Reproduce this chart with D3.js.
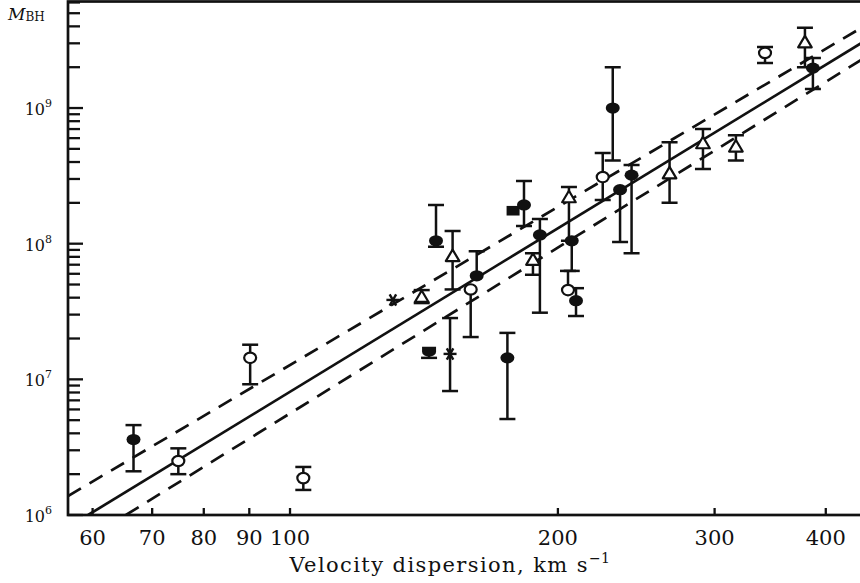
<!DOCTYPE html>
<html>
<head>
<meta charset="utf-8">
<script src="https://cdn.jsdelivr.net/npm/d3@7"></script>
<style>
  body { margin: 0; background: #fff; }
  svg { display: block; }
  text { font-family: "DejaVu Serif", "Liberation Serif", serif; fill: #111; }
</style>
</head>
<body>
<div class="chart-wrap"></div>
<script>
// velocity dispersion (km/s) and black hole mass
const sigma   = [66.7, 74.9, 90.2, 103.5, 130.5, 140.6, 143.3, 145.9, 151.3, 152.3, 159.6, 162.1, 175.5, 178.1, 183.2, 187.5, 190.9, 205.8, 207.3, 205.3, 209.6, 230.5, 224.6, 234.9, 242.0, 267.0, 291.1, 317.0, 341.8, 379.0, 386.9];
const mass    = [3.6e6, 2.5e6, 1.44e7, 1.87e6, 3.85e7, 4.05e7, 1.6e7, 1.05e8, 1.54e7, 8.1e7, 4.6e7, 5.8e7, 1.44e7, 1.75e8, 1.93e8, 7.6e7, 1.16e8, 2.2e8, 1.05e8, 4.55e7, 3.8e7, 1.0e9, 3.1e8, 2.5e8, 3.2e8, 3.3e8, 5.5e8, 5.2e8, 2.55e9, 3.05e9, 1.97e9];
const massLow = [2.1e6, 2.0e6, 9.2e6, 1.53e6, null, 3.65e7, 1.44e7, 9.5e7, 8.2e6, 4.6e7, 2.05e7, null, 5.1e6, null, 1.35e8, 5.9e7, 3.1e7, 1.05e8, 6.3e7, null, 2.93e7, 4.1e8, 2.1e8, 1.03e8, 8.5e7, 2.0e8, 3.55e8, 4.1e8, 2.15e9, 2.0e9, 1.38e9];
const massHigh= [4.6e6, 3.1e6, 1.8e7, 2.26e6, null, 4.55e7, null, 1.93e8, 2.83e7, 1.24e8, null, 8.8e7, 2.2e7, null, 2.9e8, 8.5e7, 1.52e8, 2.62e8, null, 6.3e7, 4.7e7, 2.0e9, 4.66e8, null, 3.8e8, 5.6e8, 7.0e8, 6.3e8, 2.82e9, 3.9e9, 2.34e9];
const symbol  = ["filled", "open", "open", "open", "star", "tri", "cup", "filled", "star", "tri", "open", "filled", "filled", "square", "filled", "tri", "filled", "tri", "filled", "open", "filled", "filled", "open", "filled", "filled", "tri", "tri", "tri", "open", "tri", "filled"];

// fit line and the two dashed bounds (end points)
const fitLine   = [[59.3, 1.0e6], [440, 3.05e9]];
const upperLine = [[56.3, 1.38e6], [440, 3.95e9]];
const lowerLine = [[65.4, 1.0e6], [440, 2.3e9]];

// tick labels
const xTickLabels = [60, 70, 80, 90, 100, 200, 300, 400];
const yTickLabels = [6, 7, 8, 9];

const width = 860, height = 583;
const svg = d3.select(".chart-wrap")
  .append("svg")
  .attr("width", width)
  .attr("height", height);

const pLeft = 68, pRight = 862, pTop = 1.5, pBottom = 515;
const x = d3.scaleLog().domain([56.3, 439.3]).range([pLeft, pRight]);
const y = d3.scaleLog().domain([1e6, 6.1e9]).range([pBottom, pTop]);

svg.append("clipPath").attr("id", "plot")
  .append("rect")
  .attr("x", pLeft).attr("y", pTop)
  .attr("width", pRight - pLeft).attr("height", pBottom - pTop);

const plot = svg.append("g").attr("clip-path", "url(#plot)");

// lines
const line = d3.line().x(d => x(d[0])).y(d => y(d[1]));
plot.append("path").attr("d", line(fitLine))
  .attr("fill", "none").attr("stroke", "#111").attr("stroke-width", 2.7);
[upperLine, lowerLine].forEach(l => {
  plot.append("path").attr("d", line(l))
    .attr("fill", "none").attr("stroke", "#111").attr("stroke-width", 2.7)
    .attr("stroke-dasharray", "15,10");
});

// error bars
const pts = sigma.map((s, i) => ({
  s, m: mass[i], lo: massLow[i], hi: massHigh[i], sym: symbol[i]
}));
const capW = 8;
pts.forEach(p => {
  const cx = x(p.s);
  const g = plot.append("g").attr("stroke", "#111").attr("stroke-width", 2.5);
  const y0 = p.hi != null ? y(p.hi) : y(p.m);
  const y1 = p.lo != null ? y(p.lo) : y(p.m);
  if (p.hi != null || p.lo != null) {
    g.append("line").attr("x1", cx).attr("x2", cx).attr("y1", y0).attr("y2", y1);
  }
  if (p.hi != null) {
    g.append("line").attr("x1", cx - capW).attr("x2", cx + capW).attr("y1", y0).attr("y2", y0);
  }
  if (p.lo != null) {
    g.append("line").attr("x1", cx - capW).attr("x2", cx + capW).attr("y1", y1).attr("y2", y1);
  }
});

// markers
pts.forEach(p => {
  const g = plot.append("g").attr("transform", `translate(${x(p.s)},${y(p.m)})`);
  if (p.sym === "filled") {
    g.append("ellipse").attr("rx", 7).attr("ry", 5.6).attr("fill", "#111");
  } else if (p.sym === "open") {
    g.append("ellipse").attr("rx", 6).attr("ry", 5.2).attr("fill", "#fff")
      .attr("stroke", "#111").attr("stroke-width", 2.2);
  } else if (p.sym === "tri") {
    g.append("path").attr("d", "M0,-6.5L6.8,5L-6.8,5Z").attr("fill", "#fff")
      .attr("stroke", "#111").attr("stroke-width", 2.2).attr("stroke-linejoin", "round");
  } else if (p.sym === "square") {
    g.append("rect").attr("x", -6.5).attr("y", -4.8).attr("width", 13).attr("height", 9.6)
      .attr("fill", "#111");
  } else if (p.sym === "cup") {
    g.append("path").attr("d", "M-7,-5L7,-5L7,0A7,5 0 0 1 -7,0Z")
      .attr("fill", "#111");
  } else if (p.sym === "star") {
    [0, 60, 120].forEach(a => {
      g.append("line").attr("x1", -6.5).attr("x2", 6.5).attr("y1", 0).attr("y2", 0)
        .attr("transform", `rotate(${a})`)
        .attr("stroke", "#111").attr("stroke-width", 2.4);
    });
  }
});

// frame
svg.append("rect")
  .attr("x", pLeft).attr("y", pTop)
  .attr("width", pRight - pLeft).attr("height", pBottom - pTop)
  .attr("fill", "none").attr("stroke", "#111").attr("stroke-width", 2.7);

// y ticks (inward)
const yTicks = [];
[1e6, 1e7, 1e8, 1e9].forEach(d => {
  for (let k = 1; k <= 9; k++) if (k * d <= 6e9) yTicks.push({ v: k * d, major: k === 1 });
});
svg.append("g").selectAll("line")
  .data(yTicks)
  .enter()
  .append("line")
  .attr("x1", pLeft)
  .attr("x2", d => pLeft + (d.major ? 15 : 12))
  .attr("y1", d => y(d.v))
  .attr("y2", d => y(d.v))
  .attr("stroke", "#111")
  .attr("stroke-width", 2.3);

const yLab = svg.append("g").selectAll("text")
  .data(yTickLabels)
  .enter()
  .append("text")
  .attr("x", 52)
  .attr("y", d => y(Math.pow(10, d)) + 7)
  .attr("text-anchor", "end")
  .attr("font-size", 16);
yLab.append("tspan").text("10");
yLab.append("tspan").attr("dy", -8).attr("font-size", 11).text(d => d);

// x ticks (inward)
svg.append("g").selectAll("line")
  .data(xTickLabels)
  .enter()
  .append("line")
  .attr("x1", d => x(d))
  .attr("x2", d => x(d))
  .attr("y1", pBottom)
  .attr("y2", pBottom - 7)
  .attr("stroke", "#111")
  .attr("stroke-width", 2.3);

svg.append("g").selectAll("text")
  .data(xTickLabels)
  .enter()
  .append("text")
  .attr("x", d => x(d))
  .attr("y", 545)
  .attr("text-anchor", "middle")
  .attr("font-size", 21)
  .text(d => d);

// axis titles
const xt = svg.append("text")
  .attr("x", 450)
  .attr("y", 572)
  .attr("text-anchor", "middle")
  .attr("font-size", 21)
  .attr("letter-spacing", 1.4);
xt.append("tspan").text("Velocity dispersion, km s");
xt.append("tspan").attr("dy", -9).attr("font-size", 14).attr("letter-spacing", 0.5).text("\u22121");

const yt = svg.append("text").attr("x", 8).attr("y", 20);
yt.append("tspan").attr("font-style", "italic").attr("font-size", 17).text("M");
yt.append("tspan").attr("font-size", 12).attr("dy", 1).text("BH");
</script>
</body>
</html>
